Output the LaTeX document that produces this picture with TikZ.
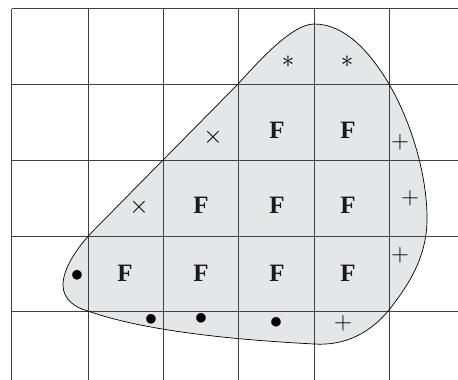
\documentclass[tikz,border=0pt]{standalone}
\usepackage{fontspec}
\setmainfont{Liberation Serif}
\definecolor{blobfill}{RGB}{229,230,232}
\begin{document}
\begin{tikzpicture}[x=1pt,y=-1pt,
  gridline/.style={draw=black!75, line width=0.8pt},
  blobline/.style={draw=black, line width=0.7pt},
  fcell/.style={font=\fontsize{25}{25}\selectfont\bfseries, inner sep=0pt, text=black!90},
  sym/.style={inner sep=0pt, text=black, font=\fontsize{25}{25}\selectfont},
  plussym/.style={inner sep=0pt, text=black, font=\fontsize{23}{23}\selectfont},
]
\useasboundingbox (0,0) rectangle (458,380);
% blob fill
\def\blobpath{(314,24) .. controls (292,24) and (258,62) .. (238,84)
  -- (95,229)
  .. controls (78,246) and (63,268) .. (63,285)
  .. controls (63,300) and (76,308) .. (88,311)
  .. controls (130,326) and (200,338) .. (314,344)
  .. controls (345,346) and (370,333) .. (389,310)
  .. controls (410,283) and (428,255) .. (427,215)
  .. controls (426,170) and (410,120) .. (389,84)
  .. controls (370,52) and (345,24) .. (314,24) -- cycle}
\fill[blobfill] \blobpath;
% grid
\foreach \x in {11.7,88,163,238.3,314,389.5}
  \draw[gridline] (\x,8.5) -- (\x,380);
\foreach \y in {8.5,84.3,160.5,236,311.7}
  \draw[gridline] (11.7,\y) -- (458,\y);
% outline
\draw[blobline] \blobpath;
% F cells
\node[fcell] (f1) at (277,130) {F};
\node[fcell] (f2) at (348,130) {F};
\node[fcell] (f3) at (201,205) {F};
\node[fcell] (f4) at (277,205) {F};
\node[fcell] (f5) at (348,205) {F};
\node[fcell] (f6) at (125,273) {F};
\node[fcell] (f7) at (201,273) {F};
\node[fcell] (f8) at (277,273) {F};
\node[fcell] (f9) at (348,273) {F};
% asterisks
\node[sym] (a1) at (288,62) {$\ast$};
\node[sym] (a2) at (347,62) {$\ast$};
% crosses
\node[sym] (x1) at (213,137) {$\times$};
\node[sym] (x2) at (139,207) {$\times$};
% pluses
\node[plussym] (p1) at (400,142) {$+$};
\node[plussym] (p2) at (410,198) {$+$};
\node[plussym] (p3) at (400,255) {$+$};
\node[plussym] (p4) at (343,323) {$+$};
% dots
\node[sym] (d1) at (77,276) {$\bullet$};
\node[sym] (d2) at (151,320) {$\bullet$};
\node[sym] (d3) at (201,319) {$\bullet$};
\node[sym] (d4) at (276,323) {$\bullet$};
\end{tikzpicture}
\end{document}
